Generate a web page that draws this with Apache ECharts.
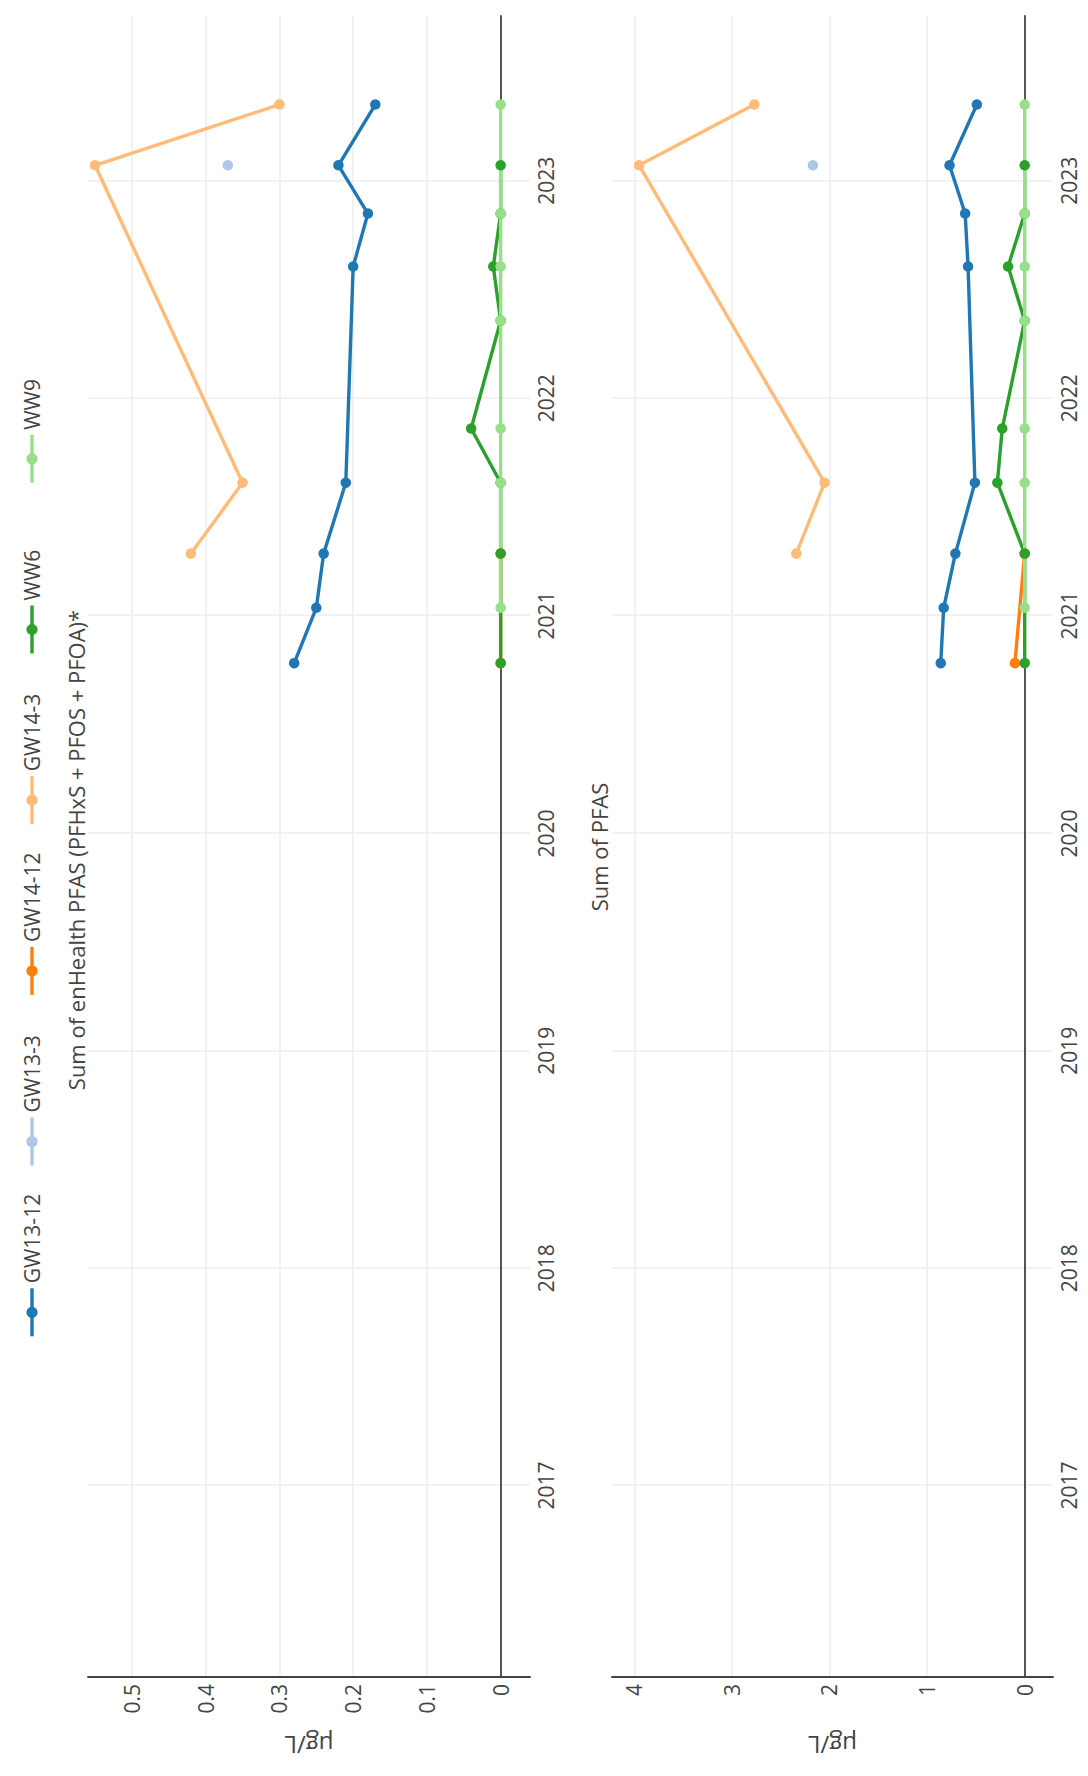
<!DOCTYPE html>
<html>
<head>
<meta charset="utf-8">
<script src="https://cdn.jsdelivr.net/npm/echarts@6/dist/echarts.min.js"></script>
<style>
  html, body { margin: 0; padding: 0; overflow: hidden; background: #fff; width: 1088px; height: 1776px; }
  /* the chart is laid out landscape and turned a quarter turn to stand upright on the page */
  #chart { position: absolute; left: 0; top: 0; width: 1776px; height: 1088px;
           transform-origin: 0 0; transform: translateY(1776px) rotate(-90deg); }
</style>
</head>
<body>
<div id="chart"></div>
<script>
// ---- data ----
const seriesNames  = ['GW13-12', 'GW13-3', 'GW14-12', 'GW14-3', 'WW6', 'WW9'];
const seriesColors = ['#1f77b4', '#aec7e8', '#ff7f0e', '#ffbb78', '#2ca02c', '#98df8a'];
const panelTitles  = ['Sum of enHealth PFAS (PFHxS + PFOS + PFOA)*', 'Sum of PFAS'];
const unitLabel    = 'μg/L';

// sampling dates per bore / well
const datesGW13_12 = ['2020-10-13', '2021-01-14', '2021-04-15', '2021-08-12', '2022-08-10', '2022-11-07', '2023-01-27', '2023-05-09'];
const datesGW13_3  = ['2023-01-27'];
const datesGW14_12 = ['2020-10-13', '2021-04-15'];
const datesGW14_3  = ['2021-04-15', '2021-08-12', '2023-01-27', '2023-05-09'];
const datesWW6     = ['2020-10-13', '2021-04-15', '2021-08-12', '2021-11-11', '2022-05-11', '2022-08-10', '2022-11-07', '2023-01-27'];
const datesWW9     = ['2021-01-14', '2021-08-12', '2021-11-11', '2022-05-11', '2022-08-10', '2022-11-07', '2023-05-09'];

// Sum of enHealth PFAS (μg/L)
const enHealthGW13_12 = [0.28, 0.25, 0.24, 0.21, 0.20, 0.18, 0.22, 0.17];
const enHealthGW13_3  = [0.37];
const enHealthGW14_12 = [0, 0];
const enHealthGW14_3  = [0.42, 0.35, 0.55, 0.30];
const enHealthWW6     = [0, 0, 0, 0.04, 0, 0.01, 0, 0];
const enHealthWW9     = [0, 0, 0, 0, 0, 0, 0];

// Sum of PFAS (μg/L)
const totalGW13_12 = [0.86, 0.83, 0.71, 0.51, 0.58, 0.61, 0.77, 0.49];
const totalGW13_3  = [2.17];
const totalGW14_12 = [0.10, 0];
const totalGW14_3  = [2.34, 2.05, 3.95, 2.77];
const totalWW6     = [0, 0, 0.28, 0.23, 0, 0.17, 0, 0];
const totalWW9     = [0, 0, 0, 0, 0, 0, 0];

// axis ranges
const timeRange     = ['2016-02-14T15:00:00', '2023-10-04T16:00:00'];
const enHealthRange = [-0.0398, 0.5596];
const totalRange    = [-0.29, 4.228];

// ---- chart ----
const FONT = '"Open Sans", "Noto Sans", sans-serif';
const TEXT = '#444';
const GRIDLINE = '#eee';
const YEAR_MS = 365 * 24 * 3600 * 1000;
const tMin = new Date(timeRange[0]).getTime();
const tMax = new Date(timeRange[1]).getTime();

const seriesDates = [datesGW13_12, datesGW13_3, datesGW14_12, datesGW14_3, datesWW6, datesWW9];
const panelValues = [
  [enHealthGW13_12, enHealthGW13_3, enHealthGW14_12, enHealthGW14_3, enHealthWW6, enHealthWW9],
  [totalGW13_12, totalGW13_3, totalGW14_12, totalGW14_3, totalWW6, totalWW9]
];
const panelRanges = [enHealthRange, totalRange];

const grids = [
  { left: 99, right: 16, top: 88, height: 442 },
  { left: 99, right: 16, top: 612, height: 441 }
];

const xAxes = [];
const yAxes = [];
const series = [];

panelValues.forEach((vals, p) => {
  xAxes.push({
    type: 'time', gridIndex: p, min: tMin, max: tMax, position: 'bottom',
    minInterval: YEAR_MS, maxInterval: YEAR_MS,
    axisLine: { show: false, onZero: false }, axisTick: { show: false },
    splitLine: { show: true, showMinLine: false, showMaxLine: false, lineStyle: { color: GRIDLINE, width: 1.6 } },
    axisLabel: { formatter: '{yyyy}', showMinLabel: false, showMaxLabel: false,
                 color: TEXT, fontFamily: FONT, fontSize: 21, margin: 5 }
  });
  yAxes.push({
    type: 'value', gridIndex: p, min: panelRanges[p][0], max: panelRanges[p][1], splitNumber: 5,
    axisLine: { show: true, onZero: false, lineStyle: { color: TEXT, width: 2 } },
    axisTick: { show: false },
    splitLine: { show: true, showMinLine: false, showMaxLine: false, lineStyle: { color: GRIDLINE, width: 1.6 } },
    axisLabel: { showMinLabel: false, showMaxLabel: false, color: TEXT, fontFamily: FONT, fontSize: 21, margin: 7 },
    name: unitLabel, nameLocation: 'middle', nameGap: 56,
    nameTextStyle: { color: TEXT, fontFamily: FONT, fontSize: 24 }
  });
  vals.forEach((v, s) => {
    series.push({
      type: 'line', name: seriesNames[s], xAxisIndex: p, yAxisIndex: p,
      data: seriesDates[s].map((d, k) => [d, v[k]]),
      symbol: 'circle', symbolSize: 10.5, showSymbol: true,
      color: seriesColors[s],
      lineStyle: { width: 3.4, color: seriesColors[s] },
      itemStyle: { color: seriesColors[s] },
      emphasis: { disabled: true }
    });
  });
});

// zero lines: extra x axes resting on each panel's value 0
panelValues.forEach((vals, p) => {
  xAxes.push({
    type: 'time', gridIndex: p, min: tMin, max: tMax, position: 'bottom',
    axisLine: { show: true, onZero: true, onZeroAxisIndex: p, lineStyle: { color: TEXT, width: 1.8 } },
    axisTick: { show: false }, axisLabel: { show: false }, splitLine: { show: false }
  });
});

const option = {
  animation: false,
  backgroundColor: '#fff',
  title: panelTitles.map((t, p) => ({
    text: t, left: p === 0 ? 921 : 924, top: p === 0 ? 60 : 583, textAlign: 'center',
    textStyle: { color: TEXT, fontFamily: FONT, fontSize: 22, fontWeight: 'normal' }
  })),
  legend: {
    data: seriesNames, orient: 'horizontal', left: 433, top: 16,
    itemWidth: 48, itemHeight: 14, itemGap: 10,
    lineStyle: { width: 3.4 },
    textStyle: { color: TEXT, fontFamily: FONT, fontSize: 21, width: 106, lineHeight: 22 }
  },
  grid: grids,
  xAxis: xAxes,
  yAxis: yAxes,
  series: series
};

const chart = echarts.init(document.getElementById('chart'), null, { renderer: 'svg', width: 1776, height: 1088 });
chart.setOption(option);
</script>
</body>
</html>
